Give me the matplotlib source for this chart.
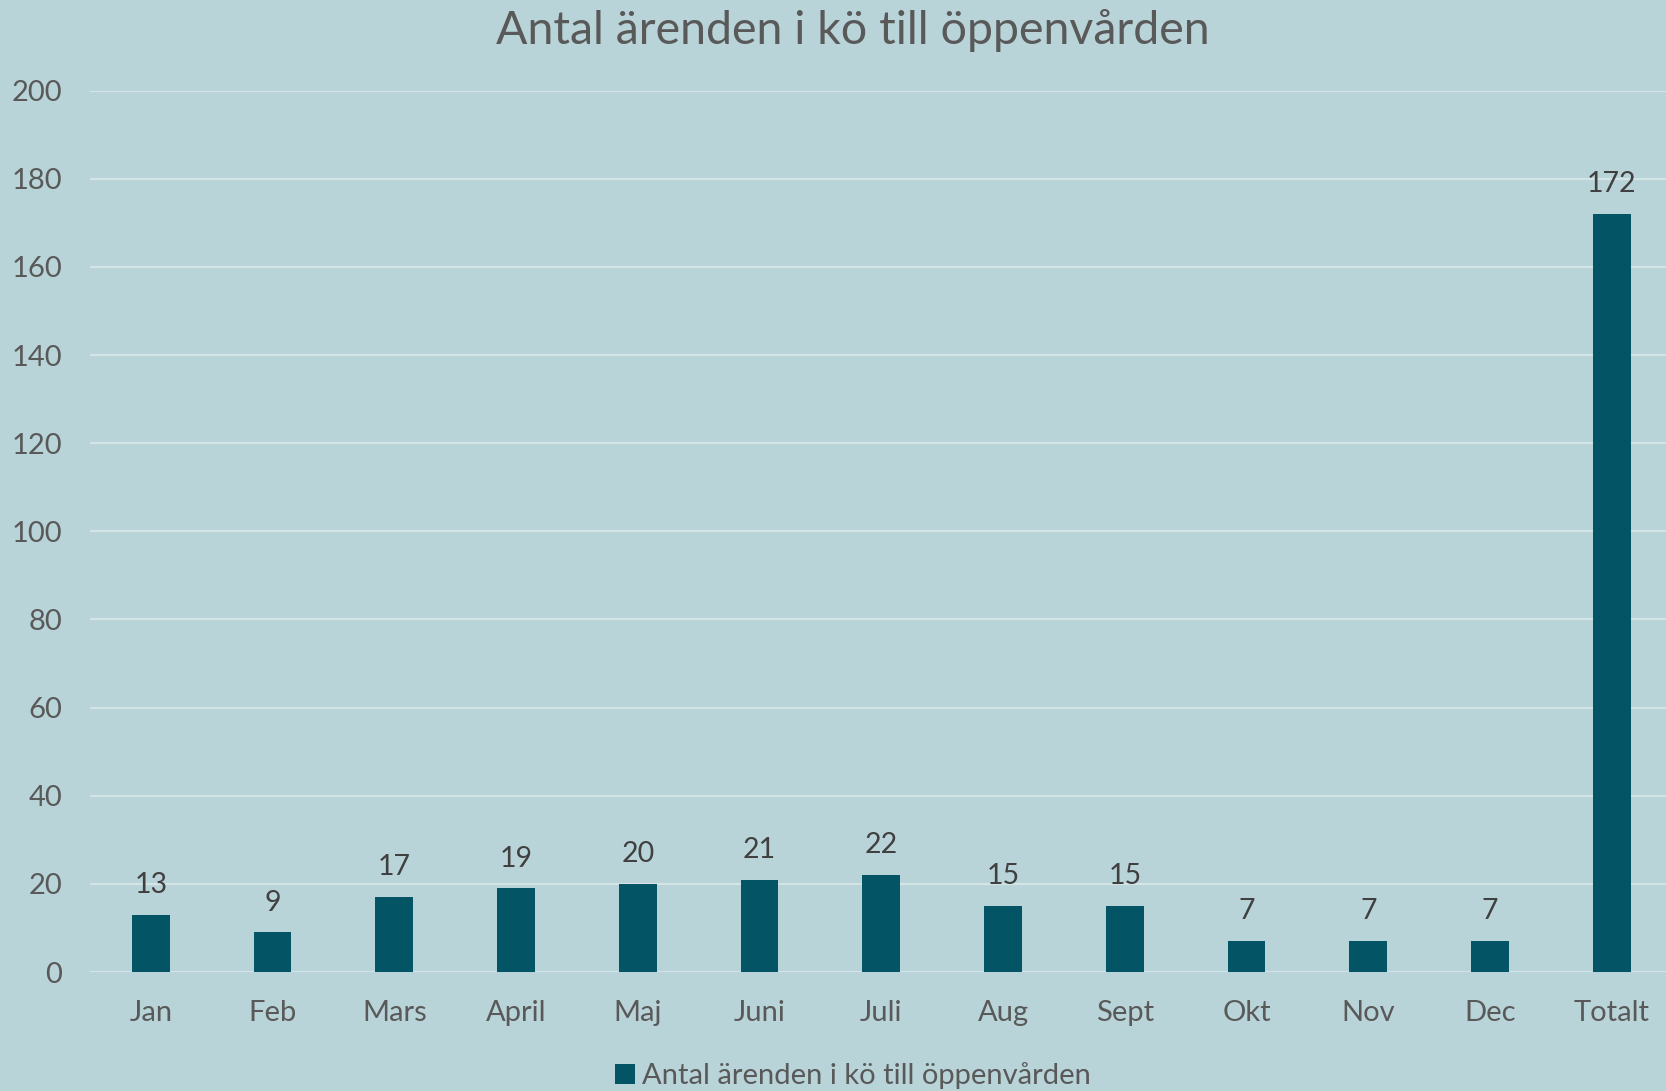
import matplotlib
matplotlib.use("Agg")
import matplotlib.pyplot as plt
import numpy as np

# data
months = ["Jan", "Feb", "Mars", "April", "Maj", "Juni", "Juli", "Aug",
          "Sept", "Okt", "Nov", "Dec", "Totalt"]
counts = [13, 9, 17, 19, 20, 21, 22, 15, 15, 7, 7, 7, 172]
series_name = "Antal ärenden i kö till öppenvården"
yticks = [0, 20, 40, 60, 80, 100, 120, 140, 160, 180, 200]

bg = "#b9d4d8"
bar_color = "#035464"
grid_color = "#d3e4e7"
text_color = "#595959"

plt.rcParams["font.family"] = ["Lato", "DejaVu Sans"]

fig = plt.figure(figsize=(16.66, 10.91), dpi=100, facecolor=bg)
ax = fig.add_axes([0.054, 0.109, 0.950, 0.808])
ax.set_facecolor(bg)

x = np.arange(len(months))
bars = ax.bar(x, counts, width=0.31, color=bar_color, label=series_name, zorder=3)

for xi, v in zip(x, counts):
    ax.text(xi, v + 3.8, str(v), ha="center", va="bottom", fontsize=20.5,
            color="#404040")

ax.set_xlim(-0.5, 12.5)
ax.set_ylim(0, 200)
ax.set_yticks(yticks)
ax.set_xticks(x)
ax.set_xticklabels(months)
ax.yaxis.grid(True, color=grid_color, linewidth=1.5, zorder=0)
ax.set_axisbelow(True)
for s in ax.spines.values():
    s.set_visible(False)
ax.tick_params(axis="both", length=0, labelsize=21, labelcolor=text_color)
ax.tick_params(axis="y", pad=20)
ax.tick_params(axis="x", pad=20)

fig.text(0.512, 0.972, series_name, ha="center", va="center", fontsize=33.5,
         color=text_color)

fig.legend(handles=[bars], labels=[series_name], loc="center",
           bbox_to_anchor=(0.512, 0.014), frameon=False, fontsize=21,
           labelcolor=text_color, handlelength=0.7, handleheight=0.7,
           handletextpad=0.25)

fig.savefig("out.png", dpi=100, facecolor=bg)
